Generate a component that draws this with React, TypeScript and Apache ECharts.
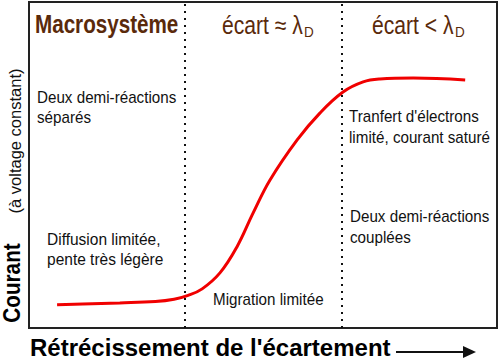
import React, { useEffect, useRef } from "react";
import * as echarts from "echarts";

const curveX = [6.0, 11.5, 19.4, 27.0, 31.0, 34.0, 37.0, 40.8, 44.4, 47.9, 51.5, 57.3, 62.2, 67.1, 71.4, 75.0, 82.1, 93.2];
const curveY = [7.1, 7.4, 7.7, 8.1, 8.8, 10.0, 12.0, 16.9, 24.8, 35.3, 45.4, 57.7, 66.0, 72.4, 75.5, 76.4, 76.7, 76.1];
const boundaries = [33.3, 66.9];
const regionTitles = ["Macrosystème", "écart ≈ λ", "écart < λ"];
const subscript = "D";
const notes = [
  "Deux demi-réactions\nséparés",
  "Diffusion limitée,\npente très légère",
  "Migration limitée",
  "Tranfert d'électrons\nlimité, courant saturé",
  "Deux demi-réactions\ncouplées",
];
const xTitle = "Rétrécissement de l'écartement";
const yTitle = "Courant";
const ySubTitle = "(à voltage constant)";

const FONT = "'Liberation Sans', Arial, Helvetica, sans-serif";
const BROWN = "#5a2a0b";

function txt(text: string, x: number, y: number, opts: any = {}) {
  const { scaleX = 1, scaleY = 1, rotation = 0, ...style } = opts;
  return {
    type: "text",
    x,
    y,
    scaleX,
    scaleY,
    rotation,
    silent: true,
    style: {
      text,
      x: 0,
      y: 0,
      fontFamily: FONT,
      fontSize: 16,
      fill: "#111",
      align: "left",
      verticalAlign: "top",
      textAlign: "left",
      textVerticalAlign: "top",
      lineHeight: 20,
      ...style,
    },
  };
}

export default function App() {
  const ref = useRef<HTMLDivElement>(null);
  useEffect(() => {
    if (!ref.current) return;
    const chart = echarts.init(ref.current, null, { renderer: "svg" });
    const data = curveX.map((x, i) => [x, curveY[i]]);
    chart.setOption({
      animation: false,
      grid: {
        left: 29,
        right: 3,
        top: 2,
        bottom: 32,
        show: true,
        borderColor: "#222",
        borderWidth: 2,
        backgroundColor: "#fff",
      },
      xAxis: {
        type: "value",
        min: 0,
        max: 100,
        axisLine: { show: false },
        axisTick: { show: false },
        axisLabel: { show: false },
        splitLine: { show: false },
      },
      yAxis: {
        type: "value",
        min: 0,
        max: 100,
        axisLine: { show: false },
        axisTick: { show: false },
        axisLabel: { show: false },
        splitLine: { show: false },
      },
      series: [
        {
          type: "line",
          data,
          smooth: 0.4,
          symbol: "none",
          lineStyle: { color: "#f00000", width: 3 },
          markLine: {
            silent: true,
            symbol: "none",
            label: { show: false },
            lineStyle: { type: [2, 5], color: "#111", width: 2 },
            data: boundaries.map((b) => ({ xAxis: b })),
          },
        },
      ],
      graphic: [
        txt(regionTitles[0], 35, 24, { fontSize: 24, fontWeight: "bold", fill: BROWN, verticalAlign: "middle", textVerticalAlign: "middle", scaleX: 0.86, scaleY: 1.05 }),
        txt(regionTitles[1], 222, 25, { fontSize: 24, fill: BROWN, verticalAlign: "middle", textVerticalAlign: "middle", scaleX: 0.88, scaleY: 1.05 }),
        txt(subscript, 304, 32, { fontSize: 15, fill: BROWN, verticalAlign: "middle", textVerticalAlign: "middle", scaleX: 0.9 }),
        txt(regionTitles[2], 372, 25, { fontSize: 24, fill: BROWN, verticalAlign: "middle", textVerticalAlign: "middle", scaleX: 0.88, scaleY: 1.05 }),
        txt(subscript, 455, 32, { fontSize: 15, fill: BROWN, verticalAlign: "middle", textVerticalAlign: "middle", scaleX: 0.9 }),
        txt(notes[0], 37, 87, { scaleX: 0.95 }),
        txt(notes[1], 47, 229, { scaleX: 0.97 }),
        txt(notes[2], 213, 289, { scaleX: 0.95 }),
        txt(notes[3], 349, 106, { lineHeight: 21, scaleX: 0.95 }),
        txt(notes[4], 350, 206, { lineHeight: 21, scaleX: 0.95 }),
        txt(xTitle, 30, 347, { fontSize: 24, fontWeight: "bold", fill: "#000", verticalAlign: "middle", textVerticalAlign: "middle" }),
        txt(yTitle, 12, 283, { fontSize: 23, fontWeight: "bold", fill: "#000", align: "center", textAlign: "center", verticalAlign: "middle", textVerticalAlign: "middle", rotation: Math.PI / 2, scaleX: 0.9 }),
        txt(ySubTitle, 15, 141, { fontSize: 16.5, fill: "#111", align: "center", textAlign: "center", verticalAlign: "middle", textVerticalAlign: "middle", rotation: Math.PI / 2 }),
        {
          type: "line",
          silent: true,
          shape: { x1: 396, y1: 352, x2: 466, y2: 352 },
          style: { stroke: "#111", lineWidth: 2 },
        },
        {
          type: "polygon",
          silent: true,
          shape: { points: [[463, 346], [476, 352], [463, 358]] },
          style: { fill: "#111" },
        },
      ],
    });
    return () => chart.dispose();
  }, []);
  return <div ref={ref} style={{ width: 500, height: 360, position: "absolute", left: 0, top: 0 }} />;
}
